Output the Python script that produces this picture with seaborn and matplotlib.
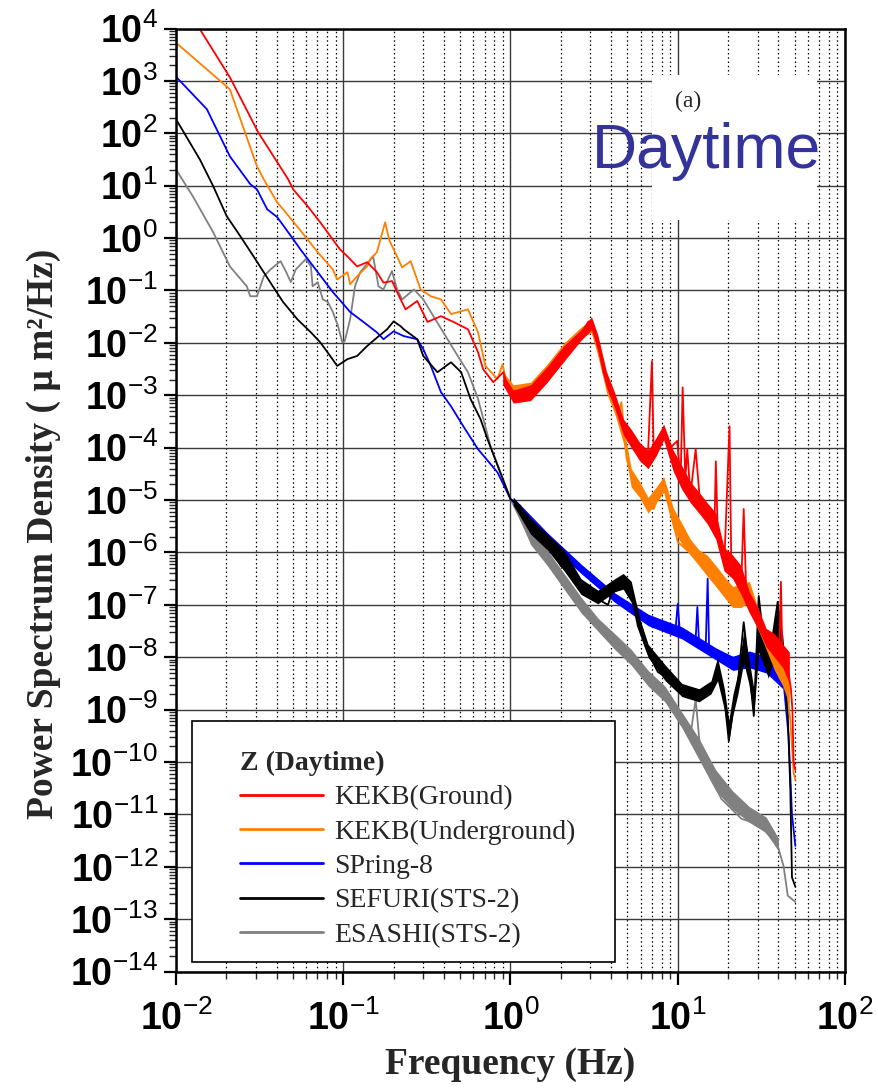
import numpy as np
import matplotlib
matplotlib.use('Agg')
import matplotlib.pyplot as plt
from matplotlib.lines import Line2D
from matplotlib.ticker import LogLocator, FuncFormatter, NullFormatter
import seaborn as sns

# Valores: frecuencia (Hz) y log10 de la PSD (um^2/Hz)
kekb_ground_f = [0.0132, 0.0210, 0.0310, 0.0403, 0.0469, 0.0502, 0.0612, 0.0729, 0.0836, 0.0953,
                 0.106, 0.121, 0.139, 0.159, 0.174, 0.196, 0.215, 0.236, 0.277, 0.319,
                 0.384, 0.456, 0.557, 0.640, 0.686, 0.789, 0.907, 1.0, 1.20, 1.44,
                 1.91, 2.52, 2.93, 3.23, 3.60, 3.97, 4.37, 4.75, 5.45, 5.96,
                 6.61, 7.01, 7.18, 8.24, 9.05, 9.93, 10.4, 10.7, 11.1, 11.4,
                 11.9, 12.8, 13.7, 16.6, 16.9, 17.3, 19.0, 20.4, 20.9, 24.0,
                 24.8, 25.7, 28.2, 34.8, 40.5, 41.4, 42.2, 46.0, 47.5, 48.5, 49.3, 50.5]
kekb_ground_logp = [4.1, 3.07, 2.02, 1.45, 1.12, 0.93, 0.61, 0.30, 0.04, -0.21,
                    -0.35, -0.54, -0.46, -0.65, -0.85, -0.82, -1.10, -1.36, -1.20, -1.60,
                    -1.49, -1.60, -1.74, -2.18, -2.50, -2.75, -2.56, -3.02, -3.07, -2.94,
                    -2.44, -1.93, -1.59, -1.80, -2.56, -3.0, -3.21, -3.65, -3.85, -4.1,
                    -4.27, -2.35, -4.1, -3.65, -4.0, -3.87, -4.66, -2.85, -4.6, -4.03,
                    -4.9, -4.03, -5.17, -5.42, -4.26, -5.5, -6.18, -3.59, -6.2, -6.56,
                    -5.17, -6.8, -7.2, -7.7, -7.9, -6.56, -7.95, -8.3, -8.6, -9.0, -10.0, -10.15]

kekb_under_f = [0.0100, 0.0210, 0.0305, 0.0335, 0.0403, 0.0437, 0.0553, 0.0704, 0.0867, 0.0920,
                0.106, 0.110, 0.121, 0.139, 0.145, 0.159, 0.178, 0.189, 0.200, 0.225,
                0.253, 0.290, 0.334, 0.384, 0.441, 0.557, 0.640, 0.708, 0.836, 0.896,
                0.960, 1.10, 1.38, 1.74, 2.19, 2.73, 3.01, 3.37, 3.97, 4.40,
                4.60, 4.80, 4.94, 5.45, 6.10, 7.18, 8.24, 10.0, 13.7, 17.3,
                21.7, 26.3, 28.2, 34.8, 39.6, 45.0, 47.1, 49.3, 50.5]
kekb_under_logp = [3.73, 2.84, 1.37, 1.12, 0.68, 0.55, 0.15, -0.27, -0.60, -0.79,
                   -0.65, -0.88, -0.73, -0.54, -0.40, -0.27, 0.30, -0.05, -0.21, -0.56,
                   -0.44, -0.98, -1.11, -1.17, -1.45, -1.36, -1.80, -2.44, -2.69, -2.41,
                   -2.83, -2.88, -2.83, -2.50, -2.06, -1.74, -1.68, -2.18, -3.07, -3.4,
                   -3.13, -3.7, -4.2, -4.66, -4.9, -5.17, -4.66, -5.80, -6.18, -6.56,
                   -6.94, -6.70, -7.21, -7.84, -8.22, -8.6, -9.2, -10.2, -10.34]

spring8_f = [0.0100, 0.0153, 0.0210, 0.0278, 0.0305, 0.0351, 0.0403, 0.0497, 0.0553, 0.0704,
             0.0867, 0.110, 0.132, 0.159, 0.174, 0.200, 0.230, 0.277, 0.301, 0.334,
             0.384, 0.441, 0.522, 0.640, 0.836, 1.0, 1.315, 1.66, 2.09, 2.64,
             3.33, 4.14, 5.01, 6.61, 7.87, 9.68, 10.0, 10.3, 12.8, 13.1,
             13.4, 14.7, 15.1, 15.4, 16.9, 19.9, 24.0, 30.3, 37.3, 42.9,
             46.0, 48.2, 50.5]
spring8_logp = [3.08, 2.46, 1.56, 1.03, 0.93, 0.55, 0.40, 0.0, -0.21, -0.65,
                -1.03, -1.41, -1.60, -1.80, -1.93, -1.78, -1.87, -1.93, -2.12, -2.44,
                -2.94, -3.21, -3.59, -4.03, -4.47, -4.98, -5.36, -5.69, -5.99, -6.31,
                -6.56, -6.83, -7.02, -7.27, -7.46, -7.5, -6.98, -7.52, -7.65, -7.04,
                -7.7, -7.8, -6.5, -7.82, -7.95, -8.09, -7.97, -8.16, -8.09, -8.47,
                -9.5, -11.0, -11.6]

sefuri_f = [0.0100, 0.0139, 0.0167, 0.0201, 0.0242, 0.0291, 0.0367, 0.0437, 0.0532, 0.0641,
            0.0729, 0.0836, 0.0920, 0.106, 0.121, 0.139, 0.159, 0.183, 0.200, 0.220,
            0.230, 0.277, 0.301, 0.366, 0.441, 0.507, 0.577, 0.661, 0.729, 1.0,
            1.144, 1.315, 1.51, 1.74, 2.00, 2.19, 2.52, 2.90, 3.33, 3.83,
            4.20, 4.72, 5.18, 5.77, 6.61, 7.60, 8.71, 10.9, 13.1, 15.8,
            17.3, 19.0, 20.2, 21.4, 22.9, 24.8, 26.6, 28.5, 30.5, 33.2,
            34.8, 39.6, 42.5, 45.5, 47.1, 48.2, 50.5]
sefuri_logp = [2.27, 1.50, 0.99, 0.42, 0.04, -0.35, -0.85, -1.22, -1.55, -1.80,
               -1.99, -2.25, -2.44, -2.31, -2.25, -2.06, -1.90, -1.74, -1.59, -1.68,
               -1.74, -1.93, -2.25, -2.56, -2.37, -2.56, -3.07, -3.45, -3.84, -4.98,
               -5.11, -5.55, -5.74, -5.88, -6.26, -6.07, -6.64, -6.83, -6.89, -7.0,
               -6.6, -6.5, -6.65, -7.4, -7.9, -8.28, -8.4, -8.66, -8.79, -8.6,
               -8.22, -8.79, -9.6, -9.0, -8.47, -7.33, -8.16, -9.12, -6.83, -7.9,
               -8.16, -6.94, -7.84, -9.12, -10.5, -12.2, -12.38]

esashi_f = [0.0100, 0.0126, 0.0167, 0.0210, 0.0265, 0.0278, 0.0305, 0.0335, 0.0367, 0.0422,
            0.0453, 0.0486, 0.0520, 0.0598, 0.0641, 0.0656, 0.0704, 0.0755, 0.0809, 0.0867,
            0.0931, 0.0987, 0.102, 0.110, 0.1175, 0.1265, 0.138, 0.151, 0.1625, 0.174,
            0.1956, 0.210, 0.225, 0.265, 0.301, 0.346, 0.397, 0.484, 0.557, 0.640,
            0.760, 1.0, 1.315, 1.66, 2.09, 2.64, 3.33, 4.14, 5.22, 6.61,
            7.87, 10.4, 11.9, 12.8, 13.7, 18.2, 24.0, 31.3, 39.6, 42.9,
            45.5, 50.5]
esashi_logp = [1.31, 0.80, 0.11, -0.54, -0.92, -1.11, -1.11, -0.73, -0.60, -0.44,
               -0.63, -0.84, -0.60, -0.40, -0.54, -0.92, -0.84, -1.17, -1.22, -1.41,
               -1.68, -1.99, -1.97, -1.55, -0.92, -0.65, -0.50, -0.35, -0.92, -0.98,
               -0.63, -0.98, -1.17, -0.98, -1.17, -1.49, -1.80, -2.25, -2.56, -3.07,
               -3.97, -4.98, -5.74, -6.12, -6.56, -7.02, -7.40, -7.71, -8.03, -8.41,
               -8.66, -9.23, -9.5, -8.8, -9.85, -10.70, -11.08, -11.21, -11.60, -11.98,
               -12.55, -12.67]

# Banda de ruido a altas frecuencias (log10 inferior / superior)
kekb_band_f = [0.90, 1.04, 1.32, 1.66, 2.09, 2.64, 3.05, 3.33, 3.75, 4.20, 4.72,
               5.27, 5.92, 6.65, 7.45, 8.24, 9.4, 10.6, 11.9, 13.4, 15.0,
               16.9, 18.9, 21.3, 23.9, 26.8, 30.1, 33.8, 37.9, 42.5, 46.5]
kekb_ground_lo = [-2.8, -3.15, -3.1, -2.75, -2.35, -1.95, -1.75, -2.15, -2.85, -3.25, -3.75,
                  -4.0, -4.25, -4.4, -4.15, -3.85, -4.45, -4.8, -5.05, -5.25, -5.45,
                  -5.75, -6.35, -6.5, -6.8, -7.15, -7.45, -7.8, -8.0, -8.2, -8.5]
kekb_ground_hi = [-2.6, -2.9, -2.8, -2.45, -2.05, -1.75, -1.5, -1.85, -2.55, -2.95, -3.45,
                  -3.65, -3.9, -4.05, -3.8, -3.55, -4.05, -4.35, -4.65, -4.85, -5.05,
                  -5.25, -5.9, -6.05, -6.25, -6.75, -7.05, -7.45, -7.55, -7.75, -7.9]
kekb_under_lo = [-2.8, -3.05, -3.0, -2.65, -2.25, -1.9, -1.8, -2.25, -2.95, -3.35, -3.9,
                 -4.75, -4.95, -5.25, -5.05, -4.85, -5.55, -5.85, -6.05, -6.25, -6.45,
                 -6.65, -6.85, -7.05, -7.05, -6.95, -7.45, -7.85, -8.25, -8.55, -8.9]
kekb_under_hi = [-2.55, -2.8, -2.75, -2.4, -2.0, -1.7, -1.55, -2.0, -2.65, -3.05, -3.55,
                 -4.4, -4.65, -4.95, -4.75, -4.55, -5.15, -5.45, -5.75, -5.95, -6.05,
                 -6.25, -6.45, -6.65, -6.6, -6.55, -7.05, -7.55, -7.85, -8.15, -8.4]

spring8_band_f = [1.04, 1.66, 2.64, 4.20, 6.68, 10.6, 16.9, 21.3, 26.8, 33.8, 42.5]
spring8_lo = [-5.1, -5.8, -6.4, -6.95, -7.4, -7.65, -8.05, -8.25, -8.2, -8.3, -8.6]
spring8_hi = [-4.95, -5.62, -6.22, -6.77, -7.18, -7.42, -7.82, -7.98, -7.88, -7.98, -8.25]

sefuri_band_f = [1.04, 1.32, 1.66, 2.09, 2.64, 3.33, 4.20, 4.72, 5.27, 5.92, 6.65, 8.43, 10.6, 13.4, 15.8,
                 17.3, 19.0, 20.2, 21.4, 22.9, 24.8, 26.6, 28.5, 30.5, 33.2, 34.8, 39.6, 42.5, 45.5]
sefuri_lo = [-5.1, -5.65, -5.95, -6.35, -6.8, -6.98, -6.75, -6.7, -6.95, -7.55, -8.0, -8.45, -8.75, -8.85, -8.7,
             -8.45, -9.0, -9.6, -9.1, -8.7, -8.1, -8.5, -9.1, -7.9, -8.2, -8.4, -7.8, -8.2, -9.2]
sefuri_hi = [-4.95, -5.35, -5.65, -5.95, -6.5, -6.72, -6.5, -6.4, -6.55, -7.25, -7.75, -8.15, -8.5, -8.6, -8.45,
             -8.0, -8.6, -9.2, -8.7, -8.3, -7.5, -8.0, -8.6, -7.0, -7.7, -7.9, -7.0, -7.6, -8.8]

esashi_band_f = [1.04, 1.32, 1.66, 2.09, 2.64, 3.33, 4.20, 5.27, 6.65, 8.38, 10.6, 13.4, 16.9, 21.3, 26.8, 33.8, 40.0]
esashi_lo = [-5.1, -5.85, -6.25, -6.7, -7.15, -7.5, -7.85, -8.15, -8.55, -8.85, -9.35, -9.95, -10.55, -10.9, -11.15, -11.35, -11.7]
esashi_hi = [-4.95, -5.55, -5.95, -6.4, -6.85, -7.25, -7.55, -7.85, -8.25, -8.55, -9.05, -9.55, -10.15, -10.55, -10.85, -11.05, -11.45]

labels = ['KEKB(Ground)', 'KEKB(Underground)', 'SPring-8', 'SEFURI(STS-2)', 'ESASHI(STS-2)']
colors = ['#ff0000', '#ff8000', '#0000ff', '#000000', '#808080']

sns.set_style('white')
plt.rcParams['font.family'] = ['Liberation Serif', 'DejaVu Serif']
plt.rcParams['mathtext.fontset'] = 'custom'
plt.rcParams['mathtext.rm'] = 'Liberation Sans'
plt.rcParams['mathtext.bf'] = 'Liberation Sans:bold'

fig = plt.figure(figsize=(8.79, 10.92), dpi=100)
ax = fig.add_axes([0.2002, 0.1102, 0.7611, 0.8637])

# orden de dibujo: gris abajo, rojo arriba
series = [
    (esashi_f, esashi_logp, esashi_band_f, esashi_lo, esashi_hi, colors[4]),
    (spring8_f, spring8_logp, spring8_band_f, spring8_lo, spring8_hi, colors[2]),
    (sefuri_f, sefuri_logp, sefuri_band_f, sefuri_lo, sefuri_hi, colors[3]),
    (kekb_under_f, kekb_under_logp, kekb_band_f, kekb_under_lo, kekb_under_hi, colors[1]),
    (kekb_ground_f, kekb_ground_logp, kekb_band_f, kekb_ground_lo, kekb_ground_hi, colors[0]),
]
for f, logp, bf, lo, hi, c in series:
    ax.fill_between(bf, 10.0 ** np.array(lo), 10.0 ** np.array(hi), color=c, lw=0, zorder=2)
    sns.lineplot(x=f, y=10.0 ** np.array(logp), ax=ax, color=c, lw=1.3,
                 sort=False, estimator=None, legend=False, zorder=2)

ax.set_xscale('log')
ax.set_yscale('log')
ax.set_xlim(1e-2, 1e2)
ax.set_ylim(1e-14, 1e4)

ax.xaxis.set_major_locator(LogLocator(base=10, numticks=20))
ax.xaxis.set_minor_locator(LogLocator(base=10, subs=np.arange(2, 10), numticks=20))
ax.yaxis.set_major_locator(LogLocator(base=10, numticks=40))
ax.yaxis.set_minor_locator(LogLocator(base=10, subs=np.arange(2, 10), numticks=40))
fmt = FuncFormatter(lambda v, pos: r'$\mathbf{10}^{\mathrm{%d}}$' % int(round(np.log10(v))))
ax.xaxis.set_major_formatter(fmt)
ax.yaxis.set_major_formatter(fmt)
ax.xaxis.set_minor_formatter(NullFormatter())
ax.yaxis.set_minor_formatter(NullFormatter())

ax.set_axisbelow(True)
ax.grid(which='major', axis='both', color='#3a3a3a', lw=1.0, ls='-')
ax.grid(which='minor', axis='x', color='black', lw=0.9, ls=(0, (1.2, 2.2)))

ax.tick_params(which='major', direction='out', length=9, width=1.6, labelsize=27, pad=4,
               left=True, bottom=True, top=False, right=False, colors='black')
ax.tick_params(which='minor', direction='out', length=5, width=1.0,
               left=True, bottom=True, top=False, right=False)
ax.tick_params(axis='x', which='major', pad=12)
for s in ax.spines.values():
    s.set_color('black')
    s.set_linewidth(1.8)

ax.set_xlabel('Frequency (Hz)', fontsize=27, fontweight='bold')
ax.set_ylabel('Power Spectrum Density ( \u03bc m\u00b2/Hz)', fontsize=27, fontweight='bold')
ax.xaxis.set_label_coords(0.5, -0.08)
ax.yaxis.set_label_coords(-0.172, 0.464)

# caja blanca con la etiqueta
ax.add_patch(plt.Rectangle((0.7115, 0.797), 0.2465, 0.1537, transform=ax.transAxes,
                           facecolor='white', edgecolor='none', zorder=3))
ax.text(0.765, 0.923, '(a)', transform=ax.transAxes, ha='center', va='center',
        fontsize=17, zorder=4)
ax.text(0.622, 0.852, 'Daytime', transform=ax.transAxes, ha='left', va='baseline',
        fontsize=45, color='#333399', family='Liberation Sans', zorder=4)

# marco de la leyenda
ax.add_patch(plt.Rectangle((0.0235, 0.0106), 0.633, 0.2555, transform=ax.transAxes,
                           facecolor='white', edgecolor='black', lw=1.2, zorder=4))
handles = [Line2D([], [], color=c, lw=2) for c in colors]
leg = ax.legend(handles, labels, title='Z (Daytime)', loc='upper left',
                bbox_to_anchor=(0.0957, 0.234), borderaxespad=0, borderpad=0,
                frameon=False, fontsize=20,
                title_fontproperties={'weight': 'bold', 'size': 20},
                alignment='left', handlelength=3.0, handletextpad=0.4, labelspacing=0.32)
leg.set_zorder(5)

fig.savefig('out.png', dpi=100)
